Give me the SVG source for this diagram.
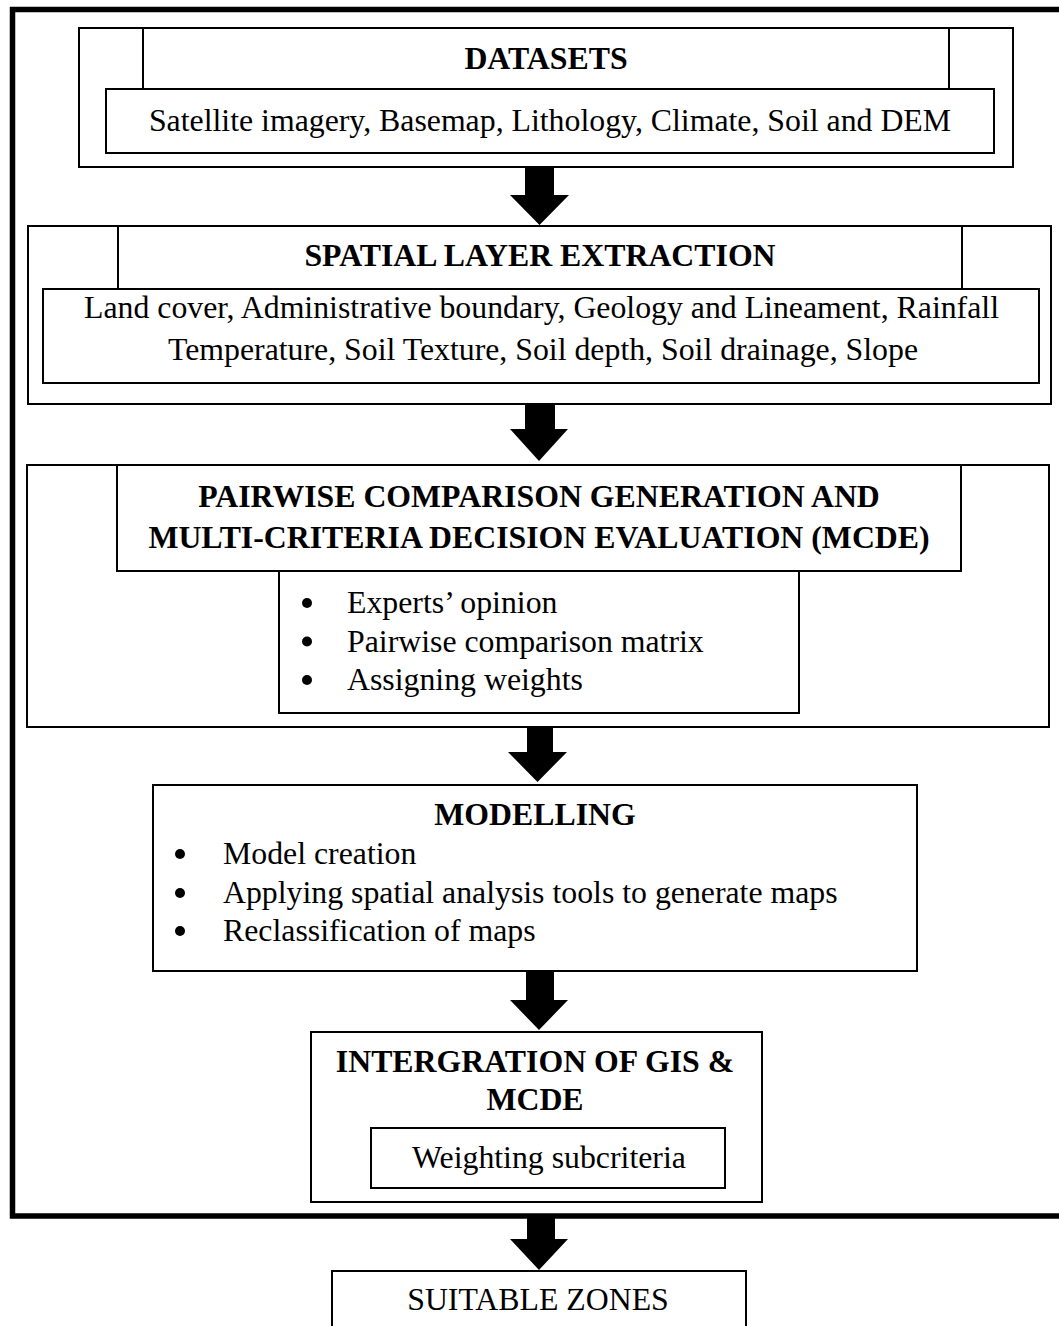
<svg xmlns="http://www.w3.org/2000/svg" width="1059" height="1326" viewBox="0 0 1059 1326">
<style>
.b{fill:none;stroke:#000;stroke-width:2}
.t{font-family:"Liberation Serif","Times New Roman",serif;font-size:31.8px;fill:#000}
.c{text-anchor:middle}
.h{font-weight:bold}
.dot{fill:#000}
.ar{fill:#000}
</style>
<rect width="1059" height="1326" fill="#fff"/>
<rect id="frame" x="12.5" y="9.5" width="1060" height="1206.5" fill="none" stroke="#000" stroke-width="5.5"/>

<g id="datasets">
<rect class="b" x="79" y="28" width="934" height="139"/>
<rect class="b" x="143" y="28" width="806" height="61"/>
<rect class="b" x="106" y="89" width="888" height="64"/>
<text class="t c h" x="546" y="69">DATASETS</text>
<text class="t c" x="550" y="131">Satellite imagery, Basemap, Lithology, Climate, Soil and DEM</text>
</g>

<g id="spatial">
<rect class="b" x="28" y="226" width="1023" height="178"/>
<rect class="b" x="118" y="226" width="844" height="63"/>
<rect class="b" x="43" y="289" width="996" height="94"/>
<text class="t c h" x="540" y="266">SPATIAL LAYER EXTRACTION</text>
<text class="t c" x="541.5" y="318">Land cover, Administrative boundary, Geology and Lineament, Rainfall</text>
<text class="t c" x="543" y="360">Temperature, Soil Texture, Soil depth, Soil drainage, Slope</text>
</g>

<g id="pairwise">
<rect class="b" x="27" y="465" width="1022" height="262"/>
<rect class="b" x="117" y="465" width="844" height="106"/>
<rect class="b" x="279" y="571" width="520" height="142"/>
<text class="t c h" x="539" y="507">PAIRWISE COMPARISON GENERATION AND</text>
<text class="t c h" x="539" y="548">MULTI-CRITERIA DECISION EVALUATION (MCDE)</text>
<circle class="dot" cx="307" cy="603" r="5"/>
<text class="t" x="347" y="613">Experts’ opinion</text>
<circle class="dot" cx="307" cy="641.5" r="5"/>
<text class="t" x="347" y="651.5">Pairwise comparison matrix</text>
<circle class="dot" cx="307" cy="680" r="5"/>
<text class="t" x="347" y="690">Assigning weights</text>
</g>

<g id="modelling">
<rect class="b" x="153" y="785" width="764" height="186"/>
<text class="t c h" x="535" y="825">MODELLING</text>
<circle class="dot" cx="180" cy="854" r="5"/>
<text class="t" x="223" y="864">Model creation</text>
<circle class="dot" cx="180" cy="893" r="5"/>
<text class="t" x="223" y="903">Applying spatial analysis tools to generate maps</text>
<circle class="dot" cx="180" cy="931" r="5"/>
<text class="t" x="223" y="941">Reclassification of maps</text>
</g>

<g id="integration">
<rect class="b" x="311" y="1032" width="451" height="170"/>
<rect class="b" x="371" y="1128" width="354" height="60"/>
<text class="t c h" x="535" y="1072">INTERGRATION OF GIS &amp;</text>
<text class="t c h" x="535" y="1110">MCDE</text>
<text class="t c" x="549" y="1168">Weighting subcriteria</text>
</g>

<g id="suitable">
<rect class="b" x="332" y="1271" width="414" height="70"/>
<text class="t c" x="538" y="1310">SUITABLE ZONES</text>
</g>

<g id="connectors">
<path class="ar" d="M525,167 H554 V195 H569 L539.5,225 L510,195 H525 Z"/>
<path class="ar" d="M525,404 H555 V429 H568 L539,461 L510,429 H525 Z"/>
<path class="ar" d="M527,727 H553 V752 H567 L537.5,782 L508,752 H527 Z"/>
<path class="ar" d="M526,971 H554 V1000 H568 L539,1030 L510,1000 H526 Z"/>
<path class="ar" d="M527,1218 H555 V1239 H568 L539,1270 L510,1239 H527 Z"/>
</g>
</svg>
